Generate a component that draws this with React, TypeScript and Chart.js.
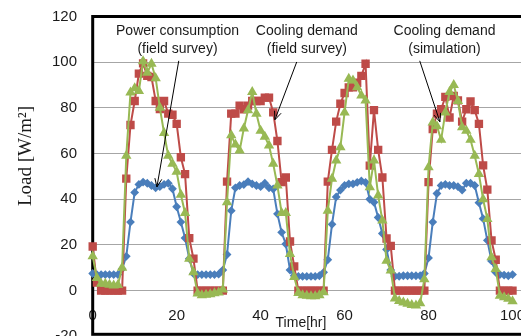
import React, { useEffect, useRef } from 'react';
import { Chart, registerables } from 'chart.js';

Chart.register(...registerables);

// ---- data ----
const hours = Array.from({ length: 101 }, (_, i) => i);

const powerField = [
  7.5, 7, 7, 7, 7, 7, 7, 9.5, 15, 30,
  43, 46.5, 47.5, 47, 46, 45, 45.5, 46.5, 47, 44.6,
  36.7, 30, 23, 14, 7.5, 7, 7, 7, 7, 7,
  7.2, 9, 15.8, 35, 45, 46, 46.4, 47.7, 46.7, 46,
  45.5, 47, 45, 44.5, 33.6, 25.5, 20.4, 9, 6.5, 6.2,
  6.2, 6.2, 6.2, 6.2, 6.5, 8, 13.5, 29, 41, 44,
  46, 46.7, 46.7, 47.4, 48, 47.4, 40, 38.7, 32, 25,
  18, 9, 6.3, 6.3, 6.5, 6.5, 6.5, 6.5, 6.5, 7.5,
  14.3, 30, 42.5, 46, 46.5, 46, 46, 45.5, 44, 47,
  47, 46, 38.5, 31.5, 22, 13, 8, 7, 6.8, 6.5,
  7,
];

const coolingField = [
  19.3, 3.5, 0, 0, 0, 0, 0, 0, 49, 72.5,
  83, 95, 99.5, 94, 93.5, 83, 79.5, 83, 77.5, 77,
  73, 58.4, 51, 23, 14, 0, 0, 0, 0, 0,
  0, 0, 47.7, 77.5, 77.5, 81, 79.4, 81, 83, 83,
  83, 84.5, 84.5, 78, 65.5, 47.5, 49.5, 21.5, 10.6, 0,
  0, 0, 0, 0, 0, 0, 47.7, 61.6, 74, 81.8,
  86.5, 89, 89, 91, 94, 99.3, 54.7, 79, 61.6, 49.5,
  22.8, 19.6, 0, 0, 0, 0, 0, 0, 0, 0,
  47.5, 70.7, 77.5, 79.4, 84.8, 75.8, 85.2, 83.3, 74, 79.4,
  82.8, 79, 73, 54.8, 44.2, 22, 13.5, 0, 0, 0,
  0,
];

const coolingSim = [
  15, 5.5, 3, 3, 2.6, 2.2, 2.5, 10, 59, 86.7,
  88.6, 87.4, 100.4, 95.4, 99.3, 93, 80, 69, 59, 55.5,
  52, 42, 34, 14, 8, -1.3, -2, -1.8, -1.6, -1.2,
  -0.8, 0.5, 38.7, 68, 64, 61.3, 71, 79, 87, 77.4,
  70, 67.4, 63.5, 55.5, 46, 34, 34, 16, 6, -1,
  -2, -2.3, -2.5, -2.5, -2, -0.7, 35, 49, 57, 62.8,
  78, 92.7, 92, 89, 85.4, 83.2, 45.3, 57, 41.6, 30.7,
  13.1, 8.8, -3.5, -4.6, -5.2, -5.8, -6.3, -6.5, -5.5, 5,
  54, 73.6, 72, 66, 78, 87, 90, 83, 71.5, 70,
  66, 59, 51, 40, 31.4, 14.6, 9.5, -2.2, -2.9, -3.6,
  -4.7,
];

const xTicks = [0, 20, 40, 60, 80, 100];
const yTicks = [-20, 0, 20, 40, 60, 80, 100, 120];

const yTitle = 'Load [W/m²]';
const xTitle = 'Time[hr]';

// annotation callouts (anchored in data coordinates)
const notes = [
  { lines: ['Power consumption', '(field survey)'], tx: 20.2, from: [20.5, 100.6], to: [15.3, 45.4] },
  { lines: ['Cooling demand', '(field survey)'], tx: 51.0, from: [48.6, 100.1], to: [43.4, 74.8] },
  { lines: ['Cooling demand', '(simulation)'], tx: 83.8, from: [77.9, 100.6], to: [82.7, 73.9] },
];
const noteLineValues = [113.7, 105.8];

// ---- styles ----
const BLUE = '#4A7EBB';
const RED = '#BE4B48';
const GREEN = '#98B954';
const GRID = '#a6a6a6';
const TEXT = '#1a1a1a';
const SANS = "'Liberation Sans', Arial, sans-serif";
const SERIF = "'Liberation Serif', 'Times New Roman', serif";

const overlay = {
  id: 'overlay',
  beforeDatasetsDraw(chart: any) {
    const { ctx, chartArea: a } = chart;
    ctx.save();
    ctx.strokeStyle = '#000';
    ctx.lineWidth = 3;
    ctx.strokeRect(a.left, a.top, a.right - a.left, a.bottom - 2 - a.top);
    ctx.restore();
  },
  afterDatasetsDraw(chart: any) {
    const { ctx } = chart;
    const xs = chart.scales.x;
    const ys = chart.scales.y;
    ctx.save();
    ctx.fillStyle = TEXT;
    ctx.font = `19px ${SERIF}`;
    ctx.textAlign = 'center';
    ctx.textBaseline = 'middle';
    ctx.translate(26, 156);
    ctx.rotate(-Math.PI / 2);
    ctx.fillText(yTitle, 0, 0);
    ctx.restore();

    ctx.save();
    ctx.fillStyle = TEXT;
    ctx.font = `14px ${SANS}`;
    ctx.textAlign = 'center';
    ctx.textBaseline = 'middle';
    ctx.fillText(xTitle, 301, 323);

    for (const n of notes) {
      const cx = xs.getPixelForValue(n.tx);
      n.lines.forEach((t, i) => ctx.fillText(t, cx, ys.getPixelForValue(noteLineValues[i])));
      const x1 = xs.getPixelForValue(n.from[0]);
      const y1 = ys.getPixelForValue(n.from[1]);
      const x2 = xs.getPixelForValue(n.to[0]);
      const y2 = ys.getPixelForValue(n.to[1]);
      ctx.strokeStyle = '#000';
      ctx.lineWidth = 1;
      ctx.beginPath();
      ctx.moveTo(x1, y1);
      ctx.lineTo(x2, y2);
      const ang = Math.atan2(y2 - y1, x2 - x1);
      const hl = 9;
      const spread = 0.4;
      ctx.moveTo(x2 - hl * Math.cos(ang - spread), y2 - hl * Math.sin(ang - spread));
      ctx.lineTo(x2, y2);
      ctx.lineTo(x2 - hl * Math.cos(ang + spread), y2 - hl * Math.sin(ang + spread));
      ctx.stroke();
    }
    ctx.restore();
  },
};

export default function App() {
  const ref = useRef<HTMLCanvasElement>(null);
  useEffect(() => {
    const canvas = ref.current;
    if (!canvas) return;
    const mk = (v: number[]) => hours.map((h, i) => ({ x: h, y: v[i] }));
    const chart = new Chart(canvas, {
      type: 'line',
      data: {
        datasets: [
          {
            label: 'Cooling demand (simulation)',
            data: mk(coolingSim),
            borderColor: GREEN,
            backgroundColor: GREEN,
            pointStyle: 'triangle',
            pointRadius: 4,
            borderWidth: 2,
            clip: false,
          },
          {
            label: 'Cooling demand (field survey)',
            data: mk(coolingField),
            borderColor: RED,
            backgroundColor: RED,
            pointStyle: 'rect',
            pointRadius: 4.5,
            borderWidth: 2,
            clip: false,
          },
          {
            label: 'Power consumption (field survey)',
            data: mk(powerField),
            borderColor: BLUE,
            backgroundColor: BLUE,
            pointStyle: 'rectRot',
            pointRadius: 3,
            borderWidth: 2,
            clip: false,
          },
        ],
      },
      options: {
        animation: false,
        responsive: false,
        devicePixelRatio: 1,
        layout: { padding: { left: 0, top: 16.5, right: 6.3, bottom: 13.7 } },
        plugins: { legend: { display: false }, tooltip: { enabled: false } },
        elements: { line: { tension: 0 }, point: { borderWidth: 1, hoverRadius: 4 } },
        scales: {
          x: {
            type: 'linear',
            min: 0,
            max: 105,
            position: { y: 0 } as any,
            grid: { display: false },
            border: { display: false },
            afterBuildTicks: (s: any) => {
              s.ticks = xTicks.map((v) => ({ value: v }));
            },
            ticks: {
              padding: 8.5,
              autoSkip: false,
              maxRotation: 0,
              font: { family: SANS, size: 15 },
              color: TEXT,
            },
          },
          y: {
            type: 'linear',
            min: -20,
            max: 120,
            afterFit: (s: any) => {
              s.width = 92.7;
            },
            afterBuildTicks: (s: any) => {
              s.ticks = yTicks.map((v) => ({ value: v }));
            },
            grid: {
              color: GRID,
              drawTicks: true,
              tickLength: 15.7,
              tickColor: 'rgba(0,0,0,0)',
              lineWidth: 1,
            },
            border: { display: false },
            ticks: {
              padding: 0,
              font: { family: SANS, size: 15 },
              color: TEXT,
            },
          },
        },
      },
      plugins: [overlay],
    } as any);
    return () => chart.destroy();
  }, []);
  return (
    <div
      style={{
        position: 'fixed',
        left: 0,
        top: 0,
        width: 521,
        height: 336,
        overflow: 'hidden',
        background: '#fff',
      }}
    >
      <canvas ref={ref} width={540} height={350} style={{ display: 'block' }} />
    </div>
  );
}
